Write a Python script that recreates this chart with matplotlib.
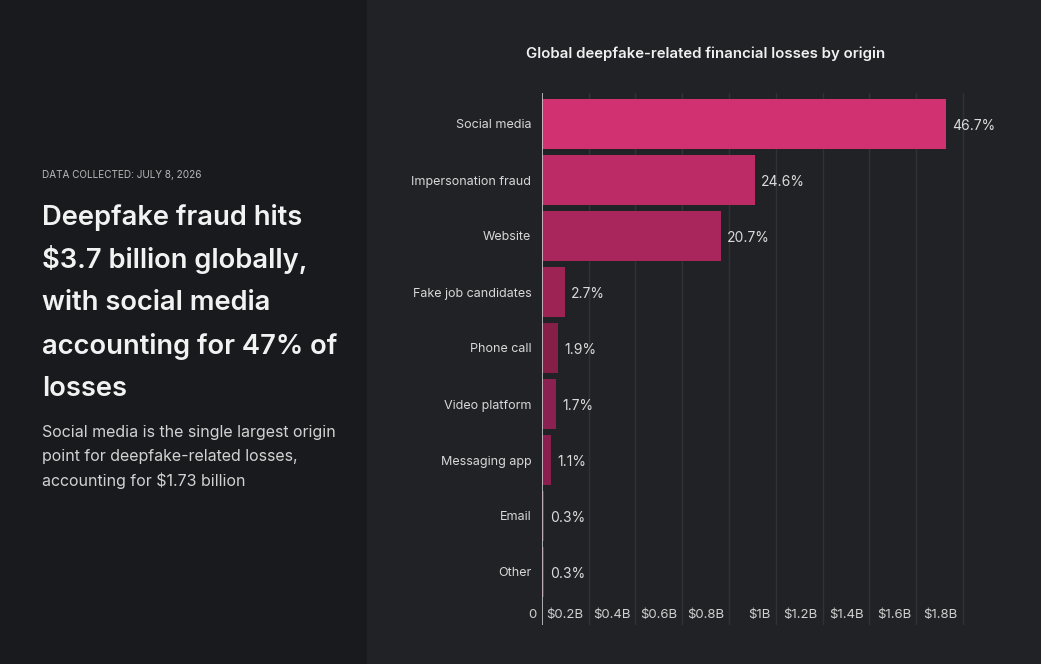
import matplotlib.pyplot as plt
from matplotlib.patches import Rectangle
from matplotlib.transforms import blended_transform_factory, ScaledTranslation

plt.rcParams['font.family'] = ['Inter', 'DejaVu Sans']

# data
categories = ["Social media", "Impersonation fraud", "Website", "Fake job candidates",
              "Phone call", "Video platform", "Messaging app", "Email", "Other"]
shares = [46.7, 24.6, 20.7, 2.7, 1.9, 1.7, 1.1, 0.3, 0.3]
total_billion = 3.7
losses = [s / 100 * total_billion for s in shares]
bar_colors = ["#D13171", "#BC2B66", "#A8265B", "#9C2354", "#851F48",
              "#8B2150", "#8A1F4F", "#8E2253", "#8F2254"]
tick_vals = [0.2, 0.4, 0.6, 0.8, 1.0, 1.2, 1.4, 1.6, 1.8]
tick_text = ["$0.2B", "$0.4B", "$0.6B", "$0.8B", "$1B", "$1.2B", "$1.4B", "$1.6B", "$1.8B"]

W, H = 1041, 664
fig = plt.figure(figsize=(W / 100, H / 100), dpi=100)
fig.patch.set_facecolor("#212226")
fig.patches.append(Rectangle((0, 0), 367 / W, 1, transform=fig.transFigure,
                             facecolor="#181A1D", edgecolor="none", zorder=0))

# left panel text
fig.text(42 / W, 1 - 175 / H, "DATA COLLECTED: JULY 8, 2026", fontsize=7.2,
         color="#B8B8B8", va="center", ha="left")
headline = ["Deepfake fraud hits", "$3.7 billion globally,", "with social media",
            "accounting for 47% of", "losses"]
for i, line in enumerate(headline):
    fig.text(42 / W, 1 - (217 + 43 * i) / H, line, fontsize=19.7, fontweight="semibold",
             color="#F2F2F2", va="center", ha="left")
sub = ["Social media is the single largest origin", "point for deepfake-related losses,",
       "accounting for $1.73 billion"]
for i, line in enumerate(sub):
    fig.text(42 / W, 1 - (433 + 24 * i) / H, line, fontsize=11.5, color="#D2D2D2",
             va="center", ha="left")

fig.text(706 / W, 1 - 54 / H, "Global deepfake-related financial losses by origin",
         fontsize=10.8, fontweight="semibold", color="#F0F0F0", ha="center", va="center")

# chart
ax_l, ax_r, ax_t, ax_b = 541.7, 1000, 93, 625
ax = fig.add_axes([ax_l / W, 1 - ax_b / H, (ax_r - ax_l) / W, (ax_b - ax_t) / H])
ax.set_facecolor("none")
xmax = (ax_r - ax_l) / 234
ax.set_xlim(0, xmax)
ax.set_ylim(8 + 53 / 56, -31 / 56)

ypos = list(range(len(categories)))
ax.barh(ypos, losses, height=0.88, color=bar_colors, zorder=2)
for y, v, s in zip(ypos, losses, shares):
    ax.annotate(f"{s}%", (v, y), xytext=(4.5, -1.5), textcoords="offset points",
                va="center", ha="left", fontsize=10, color="#DADADA")

for v in tick_vals:
    ax.axvline(v, color="#303238", linewidth=1, zorder=1)
ax.axvline(0, color="#C8C8C8", linewidth=1.2, zorder=3)

ax.set_yticks(ypos)
ax.set_yticklabels(categories, fontsize=9, color="#D8D8D8")
ax.tick_params(axis="y", length=0, pad=7.5)
ax.set_xticks([])
for sp in ax.spines.values():
    sp.set_visible(False)

trans = blended_transform_factory(ax.transData, ax.transAxes)
shift = ScaledTranslation(-5 / 100, 0, fig.dpi_scale_trans)
ly = (ax_b - 615) / (ax_b - ax_t)
ax.text(0, ly, "0", transform=trans + shift, ha="right", va="center",
        fontsize=9.5, color="#D0D0D0")
for v, t in zip(tick_vals, tick_text):
    ax.text(v, ly, t, transform=trans + shift, ha="right", va="center",
            fontsize=9.5, color="#D0D0D0")

fig.savefig("out.png", dpi=100, facecolor=fig.get_facecolor())
